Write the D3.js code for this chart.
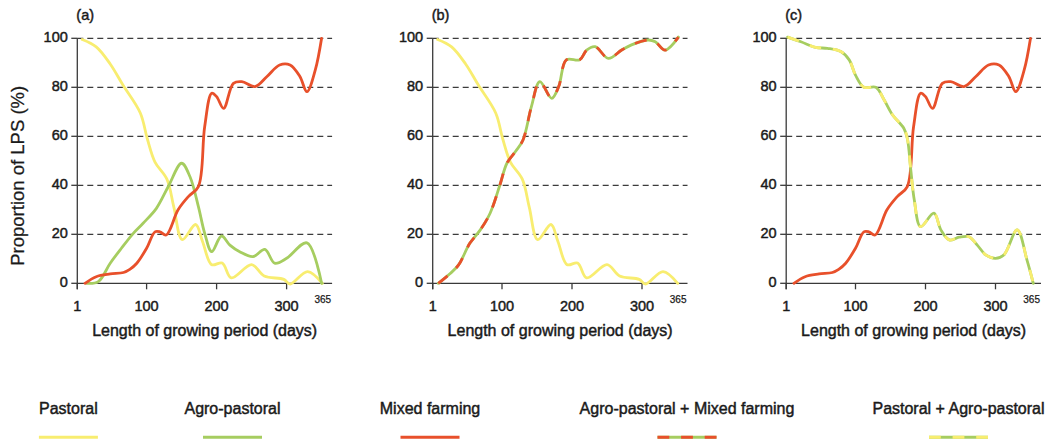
<!DOCTYPE html>
<html><head><meta charset="utf-8">
<script src="https://cdn.jsdelivr.net/npm/d3@7"></script>
<style>
html,body{margin:0;padding:0;background:#fff;}
svg{display:block;font-family:"Liberation Sans",Arial,sans-serif;}
text{fill:#1a1a1a;stroke:#1a1a1a;stroke-width:0.45px;}
</style></head><body><svg id="chart" width="1061" height="445"></svg>
<script>
// ---------- data ----------
const panelLabels = ["(a)", "(b)", "(c)"];
const xTickValues = [1, 100, 200, 300];
const xEndLabel = "365";
const yTickValues = [0, 20, 40, 60, 80, 100];
const yTitle = "Proportion of LPS (%)";
const xTitle = "Length of growing period (days)";

// [day, % of LPS]
const pastoral = [[8,99.5],[28,96.5],[48,89.5],[66,81],[91,69.5],[101,59],[112,49.5],[129,42.5],[139,31],[151,17.8],[170,24],[180,17],[193,7.6],[208,8.3],[221,2.2],[250,7.6],[268,3],[296,1.6],[305,-0.3],[330,4.8],[351,0]];
const agroPastoral = [[14,0],[31,0.7],[48,8.2],[64,14.3],[81,20.4],[95,24.5],[114,30.6],[131,39.5],[150,49],[162,43.5],[174,31.3],[183,20.4],[193,12.9],[207,19.3],[219,15.6],[233,12.9],[252,10.9],[269,13.8],[283,8.2],[300,10.2],[329,16.5],[350,0]];
const mixedFarming = [[12,0],[28,2.7],[48,3.8],[67,4.4],[76,5.7],[86,8.2],[100,14.3],[112,21],[119,21],[128,19.7],[145,30],[160,35.5],[174,39.5],[183,64],[193,77.6],[200,76.2],[210,71.4],[224,81.6],[236,82.3],[255,80.3],[272,84.4],[290,89.1],[305,89.1],[319,84.4],[329,78.2],[341,87.1],[350,100]];
const agroPlusMixed = [[9,0],[26,4],[38,7.5],[54,16.3],[69,21.8],[83,28.6],[97,40.1],[107,49],[119,53.7],[130,58.5],[142,72.1],[154,82.3],[171,75.5],[181,80.3],[192,91.2],[211,91.2],[221,95.2],[233,96.6],[252,91.8],[271,95.2],[285,97.3],[309,99.3],[319,98.6],[333,95.2],[352,100.5]];
const pastoralPlusAgro = [[3,100.5],[22,98.6],[43,96.3],[60,95.9],[79,94.6],[91,91.2],[100,85],[112,80],[129,80],[141,74.8],[153,68.7],[169,63.3],[174,59.2],[179,46.3],[184,34],[193,23.1],[212,28.6],[222,21.8],[234,17.7],[248,18.8],[262,19],[274,15.6],[286,11.6],[300,10.2],[312,11.6],[331,21.8],[345,9.5],[354,0]];

const legendLabels = ["Pastoral", "Agro-pastoral", "Mixed farming", "Agro-pastoral + Mixed farming", "Pastoral + Agro-pastoral"];

// ---------- styles / layout ----------
const YEL = "#f8ed70", GRN = "#a6cd60", RED = "#e8502b";
const panelOrigins = [77.3, 432.7, 786.2];
const plotWidth = 254.8;
const yTop = 38.3, yBottom = 283.3;
const legendCenters = [68.4, 232.5, 430, 687, 958.5];
const dashLen = 11.8;

const panelSeries = [
  [{data: pastoral, colors: [YEL]}, {data: agroPastoral, colors: [GRN]}, {data: mixedFarming, colors: [RED]}],
  [{data: pastoral, colors: [YEL]}, {data: agroPlusMixed, colors: [GRN, RED]}],
  [{data: mixedFarming, colors: [RED]}, {data: pastoralPlusAgro, colors: [GRN, YEL]}]
];
const legendColors = [[YEL], [GRN], [RED], [GRN, RED], [GRN, YEL]];

const svg = d3.select("#chart");
const y = d3.scaleLinear().domain([0, 100]).range([yBottom, yTop]);
const axisColor = "#3a3a3a";

// y title
svg.append("text")
  .attr("transform", `translate(24,${(yTop + yBottom) / 2 + 15}) rotate(-90)`)
  .attr("text-anchor", "middle")
  .style("font-size", "18.5px").style("stroke-width", "0.25px")
  .text(yTitle);

panelLabels.forEach((lab, i) => {
  const ox = panelOrigins[i];
  const x = d3.scaleLinear().domain([1, 365]).range([ox, ox + plotWidth]);
  const g = svg.append("g");

  // gridlines
  g.selectAll("line.grid").data(yTickValues.filter(v => v > 0)).join("line")
    .attr("x1", x(1)).attr("x2", x(365))
    .attr("y1", d => y(d)).attr("y2", d => y(d))
    .attr("stroke", "#3c3c3c").attr("stroke-width", 1.3)
    .attr("stroke-dasharray", "6,4");

  // y axis line and ticks
  g.append("line").attr("x1", x(1)).attr("x2", x(1))
    .attr("y1", y(100)).attr("y2", y(0) + 6)
    .attr("stroke", axisColor).attr("stroke-width", 1.3);
  g.selectAll("line.yt").data(yTickValues).join("line")
    .attr("x1", x(1) - 6).attr("x2", x(1))
    .attr("y1", d => y(d)).attr("y2", d => y(d))
    .attr("stroke", axisColor).attr("stroke-width", 1.3);
  g.selectAll("text.yl").data(yTickValues).join("text")
    .attr("x", x(1) - 9.5).attr("y", d => y(d) + 3.5)
    .attr("text-anchor", "end").style("font-size", "14.5px")
    .text(d => d);

  // x axis line and ticks
  g.append("line").attr("x1", x(1)).attr("x2", x(365))
    .attr("y1", y(0)).attr("y2", y(0))
    .attr("stroke", axisColor).attr("stroke-width", 1.3);
  g.selectAll("line.xt").data(xTickValues).join("line")
    .attr("x1", d => x(d)).attr("x2", d => x(d))
    .attr("y1", y(0)).attr("y2", y(0) + 6)
    .attr("stroke", axisColor).attr("stroke-width", 1.3);
  g.selectAll("text.xl").data(xTickValues).join("text")
    .attr("x", d => x(d)).attr("y", 311)
    .attr("text-anchor", "middle").style("font-size", "14.5px")
    .text(d => d);
  g.append("text").attr("x", x(365) - 1).attr("y", 303)
    .attr("text-anchor", "end").style("font-size", "10px").style("stroke-width", "0.25px")
    .text(xEndLabel);

  // x title
  g.append("text").attr("x", (x(1) + x(365)) / 2).attr("y", 336)
    .attr("text-anchor", "middle").style("font-size", "16px")
    .text(xTitle);

  // panel label
  g.append("text").attr("x", x(1) - 1).attr("y", 20)
    .style("font-size", "14.5px").text(lab);

  // series
  const line = d3.line().x(d => x(d[0])).y(d => y(d[1])).curve(d3.curveCatmullRom.alpha(0.5));
  panelSeries[i].forEach(s => {
    g.append("path").attr("d", line(s.data)).attr("fill", "none")
      .attr("stroke", s.colors[0]).attr("stroke-width", 2.8)
      .attr("stroke-linejoin", "round").attr("stroke-linecap", "round");
    if (s.colors.length > 1) {
      g.append("path").attr("d", line(s.data)).attr("fill", "none")
        .attr("stroke", s.colors[1]).attr("stroke-width", 2.8)
        .attr("stroke-dasharray", `${dashLen},${dashLen}`);
    }
  });
});

// legend
legendLabels.forEach((lab, i) => {
  const cx = legendCenters[i];
  svg.append("text").attr("x", cx).attr("y", 413.5)
    .attr("text-anchor", "middle").style("font-size", "16px").text(lab);
  const cols = legendColors[i];
  const x1 = cx - 29.5, x2 = cx + 29.5;
  svg.append("line").attr("x1", x1).attr("x2", x2).attr("y1", 437.3).attr("y2", 437.3)
    .attr("stroke", cols[0]).attr("stroke-width", 3);
  if (cols.length > 1) {
    svg.append("line").attr("x1", x1).attr("x2", x2).attr("y1", 437.3).attr("y2", 437.3)
      .attr("stroke", cols[1]).attr("stroke-width", 3)
      .attr("stroke-dasharray", `${dashLen},${dashLen}`);
  }
});
</script></body></html>
